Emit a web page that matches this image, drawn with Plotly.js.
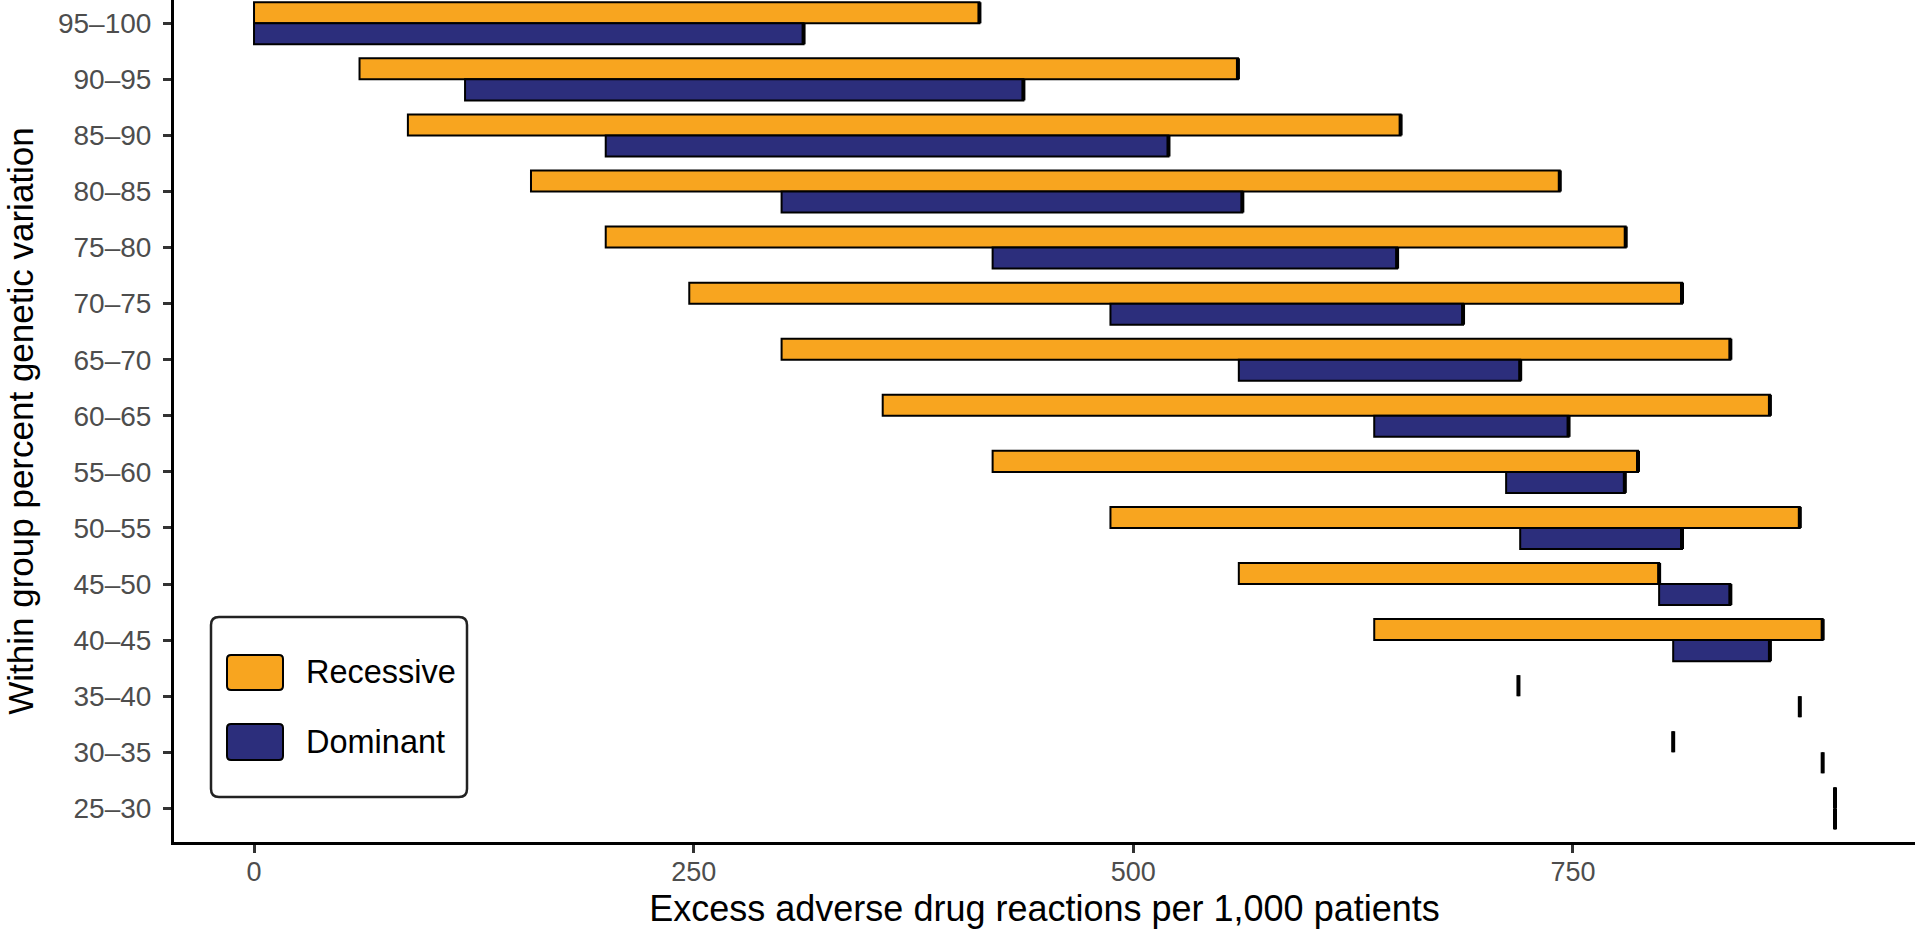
<!DOCTYPE html>
<html>
<head>
<meta charset="utf-8">
<script src="https://cdn.plot.ly/plotly-3.0.1.min.js"></script>
<style>html,body{margin:0;padding:0;background:#fff;}#chart{width:1915px;height:929px;}</style>
</head>
<body>
<div id="chart"></div>
<script>
// Categories, top to bottom as drawn
const categories = ["95–100","90–95","85–90","80–85","75–80","70–75","65–70","60–65","55–60","50–55","45–50","40–45","35–40","30–35","25–30"];
// Recessive ranges (excess adverse drug reactions per 1,000 patients)
const recStart = [0, 60, 87.5, 157.5, 200, 247.5, 300, 357.5, 420, 487, 560, 637, 719, 807, 899];
const recEnd   = [412.5, 559.5, 652, 742.5, 780, 812, 839.5, 862, 787, 879, 799, 892, 719, 807, 899];
// Dominant ranges
const domStart = [0, 120, 200, 300, 420, 487, 560, 637, 712, 720, 799, 807, 879, 892, 899];
const domEnd   = [312.5, 437.5, 520, 562, 650, 687.5, 720, 747.5, 779.5, 812, 839.5, 862, 879, 892, 899];
const xTicks = [0, 250, 500, 750];
const seriesNames = ["Recessive", "Dominant"];

const ORANGE = "#F8A51F", NAVY = "#2C2E7C";
const n = categories.length;
const idx = categories.map((c, i) => n - 1 - i);   // bottom category = 0
const BW = 0.375;

function endSegs(ends, lo, hi) {
  const xs = [], ys = [];
  ends.forEach((e, i) => { xs.push(e, e, null); ys.push(idx[i] + lo, idx[i] + hi, null); });
  return {xs, ys};
}
const rSeg = endSegs(recEnd, 0, BW);
const dSeg = endSegs(domEnd, -BW, 0);

const traces = [
  {type: "bar", orientation: "h", name: seriesNames[0], y: idx,
   x: recEnd.map((e, i) => e - recStart[i]), base: recStart,
   width: BW, offset: 0,
   marker: {color: ORANGE, line: {color: "#000", width: 2}}, showlegend: false, hoverinfo: "skip"},
  {type: "bar", orientation: "h", name: seriesNames[1], y: idx,
   x: domEnd.map((e, i) => e - domStart[i]), base: domStart,
   width: BW, offset: -BW,
   marker: {color: NAVY, line: {color: "#000", width: 2}}, showlegend: false, hoverinfo: "skip"},
  {type: "scatter", mode: "lines", x: rSeg.xs, y: rSeg.ys, line: {color: "#000", width: 4},
   showlegend: false, hoverinfo: "skip", connectgaps: false},
  {type: "scatter", mode: "lines", x: dSeg.xs, y: dSeg.ys, line: {color: "#000", width: 4},
   showlegend: false, hoverinfo: "skip", connectgaps: false}
];

// layout geometry (pixels)
const W = 1915, H = 929, ML = 174, MB = 87, MT = 0, MR = 0;
const PW = W - ML - MR, PH = H - MT - MB;
const px = x => (x - ML) / PW;
const py = y => (H - MB - y) / PH;
function rrect(x0, y0, x1, y1, r) {
  const X0 = px(x0), X1 = px(x1), Y0 = py(y0), Y1 = py(y1);
  const rx = r / PW, ry = r / PH;
  return `M${X0 + rx},${Y0} L${X1 - rx},${Y0} Q${X1},${Y0} ${X1},${Y0 - ry} L${X1},${Y1 + ry} Q${X1},${Y1} ${X1 - rx},${Y1} L${X0 + rx},${Y1} Q${X0},${Y1} ${X0},${Y1 + ry} L${X0},${Y0 - ry} Q${X0},${Y0} ${X0 + rx},${Y0} Z`;
}

const FONT = "Liberation Sans, Arial, Helvetica, sans-serif";
const layout = {
  width: W, height: H,
  margin: {l: ML, r: MR, t: MT, b: MB, pad: 0},
  paper_bgcolor: "#fff", plot_bgcolor: "#fff",
  font: {family: FONT},
  barmode: "overlay",
  showlegend: false,
  xaxis: {
    range: [-45.5, 944.5], tickvals: xTicks, ticktext: xTicks.map(String),
    showgrid: false, zeroline: false,
    showline: true, linecolor: "#000", linewidth: 3,
    ticks: "outside", ticklen: 8, tickwidth: 3, tickcolor: "#333",
    ticklabelstandoff: -4,
    tickfont: {size: 27, color: "#4D4D4D", family: FONT},
    title: {text: "Excess adverse drug reactions per 1,000 patients", font: {size: 36, color: "#000", family: FONT}, standoff: 10},
    automargin: false
  },
  yaxis: {
    range: [-0.6, 14.415], tickvals: idx, ticktext: categories,
    showgrid: false, zeroline: false,
    showline: true, linecolor: "#000", linewidth: 3,
    ticks: "outside", ticklen: 8, tickwidth: 3, tickcolor: "#333",
    ticklabelstandoff: 6,
    tickfont: {size: 28, color: "#4D4D4D", family: FONT},
    title: {text: "Within group percent genetic variation", font: {size: 35, color: "#000", family: FONT}, standoff: 14},
    automargin: false
  },
  shapes: [
    {type: "path", xref: "paper", yref: "paper", path: rrect(211, 617, 467, 797, 8),
     fillcolor: "#fff", line: {color: "#222", width: 2.5}, layer: "above"},
    {type: "path", xref: "paper", yref: "paper", path: rrect(227, 655, 283, 690, 4),
     fillcolor: ORANGE, line: {color: "#000", width: 2}, layer: "above"},
    {type: "path", xref: "paper", yref: "paper", path: rrect(227, 724, 283, 760, 4),
     fillcolor: NAVY, line: {color: "#000", width: 2}, layer: "above"}
  ],
  annotations: [
    {xref: "paper", yref: "paper", x: px(304), y: py(672), xanchor: "left", yanchor: "middle",
     text: seriesNames[0], showarrow: false, font: {size: 32.5, color: "#000", family: FONT}},
    {xref: "paper", yref: "paper", x: px(304), y: py(742), xanchor: "left", yanchor: "middle",
     text: seriesNames[1], showarrow: false, font: {size: 32.5, color: "#000", family: FONT}}
  ]
};

Plotly.newPlot("chart", traces, layout, {staticPlot: true, displayModeBar: false});
</script>
</body>
</html>
